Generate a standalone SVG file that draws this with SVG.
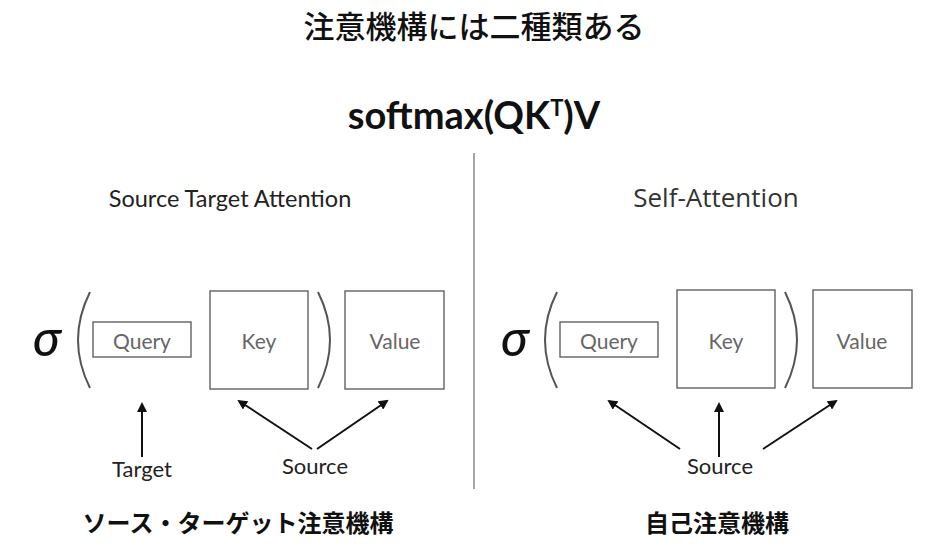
<svg xmlns="http://www.w3.org/2000/svg" width="929" height="556" viewBox="0 0 929 556">
<style>
.box{fill:#fff;stroke:#555;stroke-width:1.3}
.lbl{font-family:Lato,"Liberation Sans",sans-serif;font-size:21px;fill:#666;text-anchor:middle}
.sig{font-family:Lato,"DejaVu Sans",sans-serif;font-style:italic;font-weight:500;font-size:50px;fill:#111}
.par{fill:none;stroke:#555;stroke-width:2}
.arr{stroke:#111;stroke-width:2;fill:none;marker-end:url(#ah)}
.cap{font-family:Lato,"Liberation Sans",sans-serif;font-size:22px;fill:#222;text-anchor:middle}
.jp{font-family:"Noto Sans CJK JP",sans-serif;fill:#111;text-anchor:middle}
</style>
<defs>
<marker id="ah" viewBox="0 0 10 10" refX="8" refY="5" markerWidth="5" markerHeight="5" orient="auto" markerUnits="strokeWidth">
<path d="M0,0 L10,5 L0,10 z" fill="#111"/>
</marker>
</defs>
<rect width="929" height="556" fill="#fff"/>
<text class="jp" x="474" y="38" font-size="31" font-weight="500">注意機構には二種類ある</text>
<text x="474" y="129" font-family="Lato,'Open Sans',sans-serif" font-weight="bold" font-size="38" fill="#111" text-anchor="middle">softmax(QK<tspan font-size="22" dy="-13">T</tspan><tspan dy="13">)V</tspan></text>
<line x1="474" y1="153" x2="474" y2="489" stroke="#888" stroke-width="1.5"/>
<text class="cap" x="230" y="207" style="font-size:23.5px">Source Target Attention</text>
<text x="716" y="207" font-family="'Open Sans','Noto Sans',sans-serif" font-size="26" fill="#333" text-anchor="middle">Self-Attention</text>
<g id="left">
<text class="sig" x="33" y="356">σ</text>
<path class="par" d="M90,292 Q66,340 90,388"/>
<path class="par" d="M318,292 Q342,340 318,388"/>
</g>
<g id="lquery"><rect class="box" x="93" y="322" width="98" height="35"/><text class="lbl" x="142" y="349">Query</text></g>
<g id="lkey"><rect class="box" x="210" y="291" width="98" height="98"/><text class="lbl" x="259" y="349">Key</text></g>
<g id="lvalue"><rect class="box" x="345" y="291" width="99" height="98"/><text class="lbl" x="395" y="349">Value</text></g>
<g id="ltarget"><text class="cap" x="142" y="477">Target</text></g>
<g id="lsource"><text class="cap" x="315" y="474">Source</text></g>
<g id="right">
<text class="sig" x="501" y="356">σ</text>
<path class="par" d="M557,292 Q533,340 557,388"/>
<path class="par" d="M785,292 Q809,340 785,388"/>
</g>
<g id="rquery"><rect class="box" x="560" y="322" width="98" height="35"/><text class="lbl" x="609" y="349">Query</text></g>
<g id="rkey"><rect class="box" x="677" y="290" width="98" height="98"/><text class="lbl" x="726" y="349">Key</text></g>
<g id="rvalue"><rect class="box" x="813" y="290" width="99" height="98"/><text class="lbl" x="862" y="349">Value</text></g>
<g id="rsource"><text class="cap" x="720" y="474">Source</text></g>
<g id="connectors">
<line class="arr" x1="142" y1="457" x2="142" y2="404"/>
<line class="arr" x1="312" y1="449" x2="239" y2="401"/>
<line class="arr" x1="317" y1="449" x2="387" y2="401"/>
<line class="arr" x1="680" y1="449" x2="609" y2="401"/>
<line class="arr" x1="719" y1="457" x2="719" y2="404"/>
<line class="arr" x1="763" y1="449" x2="836" y2="401"/>
</g>
<text class="jp" x="238" y="532" font-size="24" font-weight="bold">ソース・ターゲット注意機構</text>
<text class="jp" x="717" y="532" font-size="24" font-weight="bold">自己注意機構</text>
</svg>
